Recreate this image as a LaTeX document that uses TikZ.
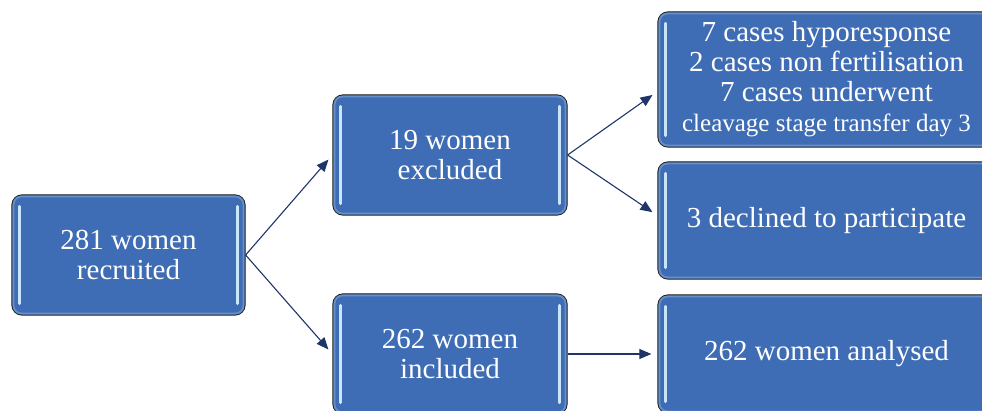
\documentclass[tikz,border=0pt]{standalone}
\usepackage{fontspec}
\setmainfont{Liberation Serif}
\usetikzlibrary{arrows.meta,calc}
\definecolor{boxblue}{RGB}{62,109,181}
\definecolor{barblue}{RGB}{200,230,248}
\definecolor{rimblue}{RGB}{120,160,215}
\definecolor{navy}{RGB}{31,52,105}
\begin{document}
\begin{tikzpicture}[x=1pt,y=-1pt,
 box/.style={draw=black!90,line width=1.2pt,fill=boxblue,rounded corners=10pt,text=white,align=center,
   font=\fontsize{29}{30}\selectfont,inner sep=0pt},
 bar/.style={barblue,line width=3pt,line cap=round},
 rim/.style={rimblue,line width=2pt,rounded corners=8pt,opacity=0.7},
 arr/.style={navy,line width=1.1pt,-{Triangle[length=12pt,width=10pt]},shorten >=6pt}]
\useasboundingbox (0,0) rectangle (982,411);
\clip (0,0) rectangle (982,411);
\node[box,minimum width=233pt,minimum height=120pt] (a) at (128.5,255) {281 women\\recruited};
\node[box,minimum width=234pt,minimum height=120pt] (b) at (450,155) {19 women\\excluded};
\node[box,minimum width=234pt,minimum height=120pt] (c) at (450,354) {262 women\\included};
\node[box,minimum width=337pt,minimum height=135pt] (d) at (826.5,79.5) {7 cases hyporesponse\\2 cases non fertilisation\\7 cases underwent\\{\fontsize{25}{28}\selectfont cleavage stage transfer day 3}};
\node[box,minimum width=337pt,minimum height=117pt] (e) at (826.5,220.5) {3 declined to participate};
\node[box,minimum width=337pt,minimum height=118pt] (f) at (826.5,354) {262 women analysed};
\foreach \n in {a,b,c,d,e,f}{
  \draw[rim] ($(\n.north west)+(2,2)$) rectangle ($(\n.south east)+(-2,-2)$);
  \draw[bar] ($(\n.north west)+(8,12)$) -- ($(\n.south west)+(8,-12)$);
  \draw[bar] ($(\n.north east)+(-8,12)$) -- ($(\n.south east)+(-8,-12)$);
}
\draw[arr] (a.east) -- (b.west);
\draw[arr] (a.east) -- (c.west);
\draw[arr] (b.east) -- ($(d.west)+(0,12)$);
\draw[arr] (b.east) -- ($(e.west)+(0,-5)$);
\draw[arr] (c.east) -- (f.west);
\end{tikzpicture}
\end{document}
